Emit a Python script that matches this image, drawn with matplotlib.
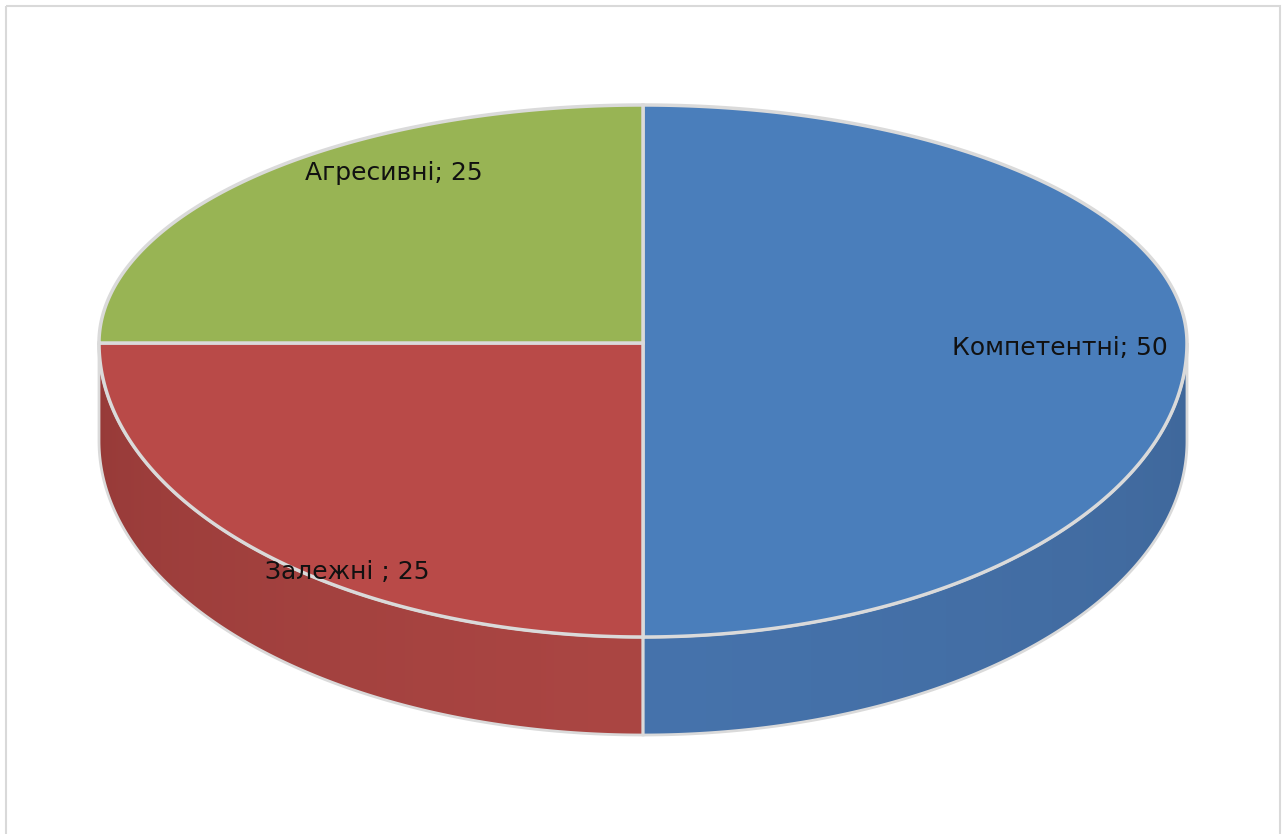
import numpy as np
import matplotlib.pyplot as plt
from matplotlib.patches import Polygon, Rectangle
from matplotlib.colors import LinearSegmentedColormap

# data
labels = ['Компетентні; 50', 'Залежні ; 25', 'Агресивні; 25']
values = [50, 25, 25]
top_colors = ['#4a7ebb', '#b94a48', '#98b454']
side_dark = ['#3f679a', '#963a38', '#7a9444']
side_light = ['#4673ac', '#ab4643', '#8aa64c']

# geometry in pixels
W, H = 1286, 834
cx, cy = 643, 343
a = 544
b_back, b_front = 238, 294
depth = 98
edge = '#dadada'


def pt(t, dy=0):
    s = np.sin(t)
    b = np.where(s > 0, b_back, b_front)
    return cx + a * np.cos(t), cy - b * s + dy


fig = plt.figure(figsize=(W / 100, H / 100), dpi=100)
ax = fig.add_axes([0, 0, 1, 1])
ax.set_xlim(0, W)
ax.set_ylim(H, 0)
ax.axis('off')

ax.add_patch(Rectangle((6, 6), W - 12, H, fill=False, edgecolor='#d9d9d9', lw=1.5))

# angles: start at top, clockwise
fracs = np.array(values) / sum(values)
starts = np.pi / 2 - 2 * np.pi * np.concatenate([[0], np.cumsum(fracs)[:-1]])
ends = starts - 2 * np.pi * fracs

# side walls (front half only, t in [pi, 2pi])
for i in range(len(values)):
    t0, t1 = ends[i] % (2 * np.pi), starts[i] % (2 * np.pi)
    if t1 <= t0:
        t1 += 2 * np.pi
    lo, hi = max(t0, np.pi), min(t1, 2 * np.pi)
    if hi - lo < 1e-3:
        continue
    tt = np.linspace(lo, hi, 200)
    xt, yt = pt(tt)
    xb, yb = pt(tt[::-1], depth)
    poly = Polygon(np.column_stack([np.r_[xt, xb], np.r_[yt, yb]]), closed=True,
                   facecolor='none', edgecolor=edge, lw=2, zorder=2)
    ax.add_patch(poly)
    x0, x1 = xt.min(), xt.max()
    cmap = LinearSegmentedColormap.from_list('s', [side_dark[i], side_light[i]])
    grad = np.linspace(0, 1, 256)
    if x0 > cx - 1:
        grad = grad[::-1]
    grad = np.sqrt(grad)
    im = ax.imshow(grad[None, :], cmap=cmap, aspect='auto',
                   extent=[x0, x1, yt.max() + depth + 2, yt.min() - 2], zorder=1)
    im.set_clip_path(poly)

# top face
for i in range(len(values)):
    tt = np.linspace(starts[i], ends[i], 300)
    x, y = pt(tt)
    ax.add_patch(Polygon(np.column_stack([np.r_[cx, x], np.r_[cy, y]]), closed=True,
                         facecolor=top_colors[i], edgecolor=edge, lw=2.5, zorder=3))

# labels
label_pos = [(1060, 348), (347, 572), (394, 173)]
for lab, (lx, ly) in zip(labels, label_pos):
    ax.text(lx, ly, lab, ha='center', va='center', fontsize=18,
            family='DejaVu Sans', color='#111111', zorder=5)

fig.savefig('out.png', dpi=100)
